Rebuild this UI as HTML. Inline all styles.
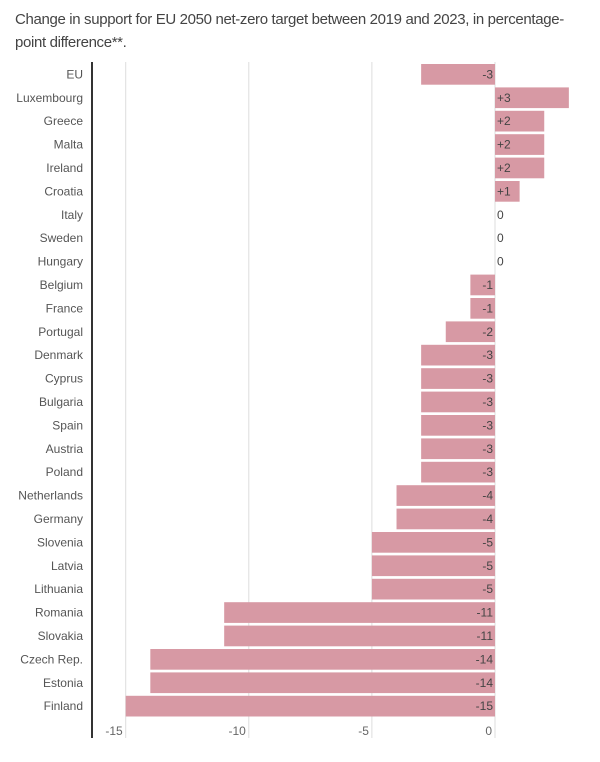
<!DOCTYPE html>
<html><head><meta charset="utf-8"><style>
body{margin:0;background:#fff;width:600px;height:762px;overflow:hidden;font-family:"Liberation Sans",sans-serif}
#title{position:absolute;left:15px;top:8px;width:590px;font-size:15px;letter-spacing:-0.35px;line-height:23px;color:#444;white-space:nowrap}
svg{position:absolute;left:0;top:0}
</style></head><body>
<div id="title">Change in support for EU 2050 net-zero target between 2019 and 2023, in percentage-<br>point difference**.</div>
<svg id="chart" width="600" height="762"></svg>
<script>
const categories=["EU","Luxembourg","Greece","Malta","Ireland","Croatia","Italy","Sweden","Hungary","Belgium","France","Portugal","Denmark","Cyprus","Bulgaria","Spain","Austria","Poland","Netherlands","Germany","Slovenia","Latvia","Lithuania","Romania","Slovakia","Czech Rep.","Estonia","Finland"];
const values=[-3,3,2,2,2,1,0,0,0,-1,-1,-2,-3,-3,-3,-3,-3,-3,-4,-4,-5,-5,-5,-11,-11,-14,-14,-15];
const ticks=[-15,-10,-5,0];
const NS="http://www.w3.org/2000/svg";
const svg=document.getElementById('chart');
const x0=495,unit=24.62;
const x=v=>x0+v*unit;
const top0=64,pitch=(695.8-64)/(categories.length-1),bh=20.7;
const y=i=>top0+i*pitch;
function mk(t,a){const e=document.createElementNS(NS,t);for(const k in a)e.setAttribute(k,a[k]);svg.appendChild(e);return e;}
ticks.forEach(t=>{
  const g=mk('line',{x1:x(t),x2:x(t),y1:62,y2:738,stroke:'#ddd','stroke-width':1});
  
  
  const l=mk('text',{x:x(t)-3,y:735,'text-anchor':'end','font-size':12,fill:'#666'});
  l.textContent=t;
  
  
});
const ax=mk('line',{x1:92,x2:92,y1:62,y2:738,stroke:'#333','stroke-width':2});


categories.forEach((c,i)=>{
  const v=values[i];
  const yy=y(i);
  if(v!==0){
    const r=mk('rect',{x:Math.min(x(v),x0),y:yy,width:Math.abs(x(v)-x0),height:bh,fill:'#d799a4'});
    
    
  }
  const lab=mk('text',{x:83,y:yy+bh/2+4,'text-anchor':'end','font-size':12,fill:'#555'});
  lab.textContent=c;
  
  
  const vl=mk('text',{x:v<0?x0-2:x0+2,y:yy+bh/2+4,'text-anchor':v<0?'end':'start','font-size':12,fill:'#444'});
  vl.textContent=v>0?'+'+v:String(v);
  
  
});
</script>
</body></html>
